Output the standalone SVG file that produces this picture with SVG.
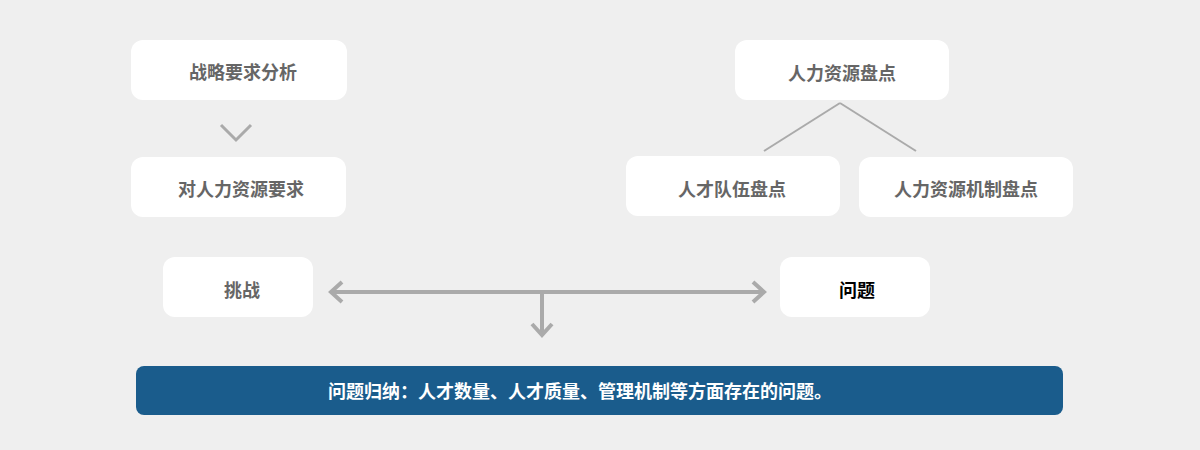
<svg xmlns="http://www.w3.org/2000/svg" width="1200" height="450" viewBox="0 0 1200 450">
<style>
.box{fill:#fff}
.t{font-family:"Noto Sans CJK SC","Liberation Sans",sans-serif;font-size:18px;font-weight:bold;fill:#666;text-anchor:middle;dominant-baseline:central}
.ln{stroke:#aaa;fill:none}
</style>
<rect width="1200" height="450" fill="#efefef"/>
<g id="n1"><rect class="box" x="131" y="40" width="216" height="60" rx="12"/><text class="t" x="243" y="71">战略要求分析</text></g>
<g id="n2"><rect class="box" x="131" y="157" width="215" height="60" rx="12"/><text class="t" x="241" y="188">对人力资源要求</text></g>
<g id="n3"><rect class="box" x="735" y="40" width="214" height="60" rx="12"/><text class="t" x="842" y="72">人力资源盘点</text></g>
<g id="n4"><rect class="box" x="626" y="156" width="214" height="60" rx="12"/><text class="t" x="732" y="188">人才队伍盘点</text></g>
<g id="n5"><rect class="box" x="859" y="157" width="214" height="60" rx="12"/><text class="t" x="966" y="188">人力资源机制盘点</text></g>
<g id="n6"><rect class="box" x="163" y="257" width="150" height="60" rx="12"/><text class="t" x="242" y="289">挑战</text></g>
<g id="n7"><rect class="box" x="780" y="257" width="150" height="60" rx="12"/><text class="t" x="857" y="289" style="fill:#000">问题</text></g>
<g id="n8"><rect x="136" y="366" width="927" height="49" rx="8" fill="#1a5c8c"/><text class="t" x="580" y="390" style="fill:#fff">问题归纳：人才数量、人才质量、管理机制等方面存在的问题。</text></g>
<g id="connectors">
<polyline class="ln" stroke-width="3" points="221,125 236,140 251,125"/>
<line class="ln" stroke-width="2" x1="840" y1="103" x2="764" y2="151"/>
<line class="ln" stroke-width="2" x1="840" y1="103" x2="916" y2="151"/>
<line class="ln" stroke-width="4" x1="331" y1="292" x2="764" y2="292"/>
<polyline class="ln" stroke-width="4" points="342,282 331,292 342,302"/>
<polyline class="ln" stroke-width="4" points="753,282 764,292 753,302"/>
<line class="ln" stroke-width="4" x1="542" y1="292" x2="542" y2="335"/>
<polyline class="ln" stroke-width="4" points="532,324 542,335 552,324"/>
</g>
</svg>
